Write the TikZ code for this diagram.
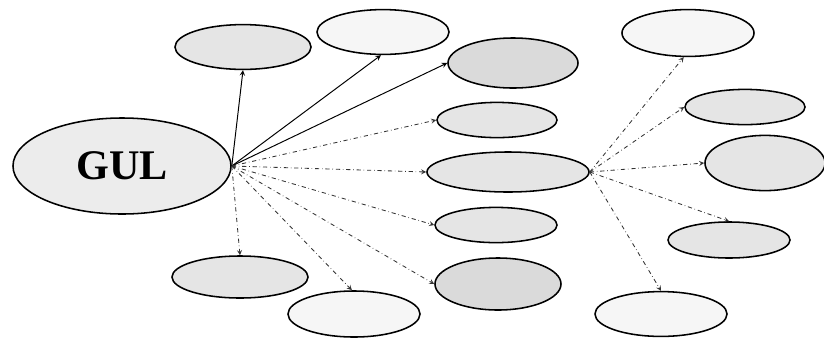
\documentclass[tikz,border=0pt]{standalone}
\usepackage{fontspec}
\setmainfont{Liberation Serif}
\usepackage{tikz}
\usetikzlibrary{arrows}
\usetikzlibrary{shapes.geometric}
\tikzset{
  blob/.style={ellipse,draw,line width=1.1pt,fill=gray!20,inner sep=0pt},
  pale/.style={blob,fill=gray!7},
  dark/.style={blob,fill=gray!29},
  link/.style={-stealth,line width=0.7pt},
  dlink/.style={-stealth,dash dot,line width=0.6pt,black!80}
}

\begin{document}
\begin{tikzpicture}[x=0.025cm,y=-0.025cm]
\useasboundingbox (0,0) rectangle (824,338);
% main node
\node[blob,minimum width=5.45cm,minimum height=2.4cm,fill=gray!15] (gul) at (122,166)
  {\fontsize{30}{36}\selectfont\bfseries GUL};
% upper row
\node[blob,minimum width=3.4cm,minimum height=1.12cm] (t1) at (243,47) {};
\node[pale,minimum width=3.3cm,minimum height=1.12cm] (t2) at (383,32) {};
\node[dark,minimum width=3.25cm,minimum height=1.25cm] (t3) at (513,63) {};
% middle column
\node[blob,minimum width=3.0cm,minimum height=0.88cm] (m1) at (497,120) {};
\node[blob,minimum width=4.05cm,minimum height=1.0cm] (m2) at (508,172) {};
\node[blob,minimum width=3.05cm,minimum height=0.88cm] (m3) at (496,225) {};
\node[dark,minimum width=3.15cm,minimum height=1.3cm] (m4) at (498,284) {};
% lower row
\node[blob,minimum width=3.4cm,minimum height=1.05cm] (b1) at (240,277) {};
\node[pale,minimum width=3.3cm,minimum height=1.15cm] (b2) at (354,314) {};
% right cluster
\node[pale,minimum width=3.3cm,minimum height=1.17cm] (r1) at (688,33) {};
\node[blob,minimum width=3.0cm,minimum height=0.88cm] (r2) at (745,107) {};
\node[blob,minimum width=3.0cm,minimum height=1.38cm] (r3) at (765,163) {};
\node[blob,minimum width=3.05cm,minimum height=0.9cm] (r4) at (729,240) {};
\node[pale,minimum width=3.3cm,minimum height=1.12cm] (r5) at (661,314) {};
% links from GUL
\draw[link] (gul.east) -- (t1.south);
\draw[link] (gul.east) -- (t2.-95);
\draw[link] (gul.east) -- (t3.west);
\foreach \n in {m1,m2,m3,m4}
  \draw[dlink] (gul.east) -- (\n.west);
\draw[dlink] (gul.east) -- (b1.north);
\draw[dlink] (gul.east) -- (b2.95);
% links from the middle node
\draw[dlink] (m2.east) -- (r1.-100);
\draw[dlink] (m2.east) -- (r2.west);
\draw[dlink] (m2.east) -- (r3.west);
\draw[dlink] (m2.east) -- (r4.north);
\draw[dlink] (m2.east) -- (r5.north);
\end{tikzpicture}
\end{document}
